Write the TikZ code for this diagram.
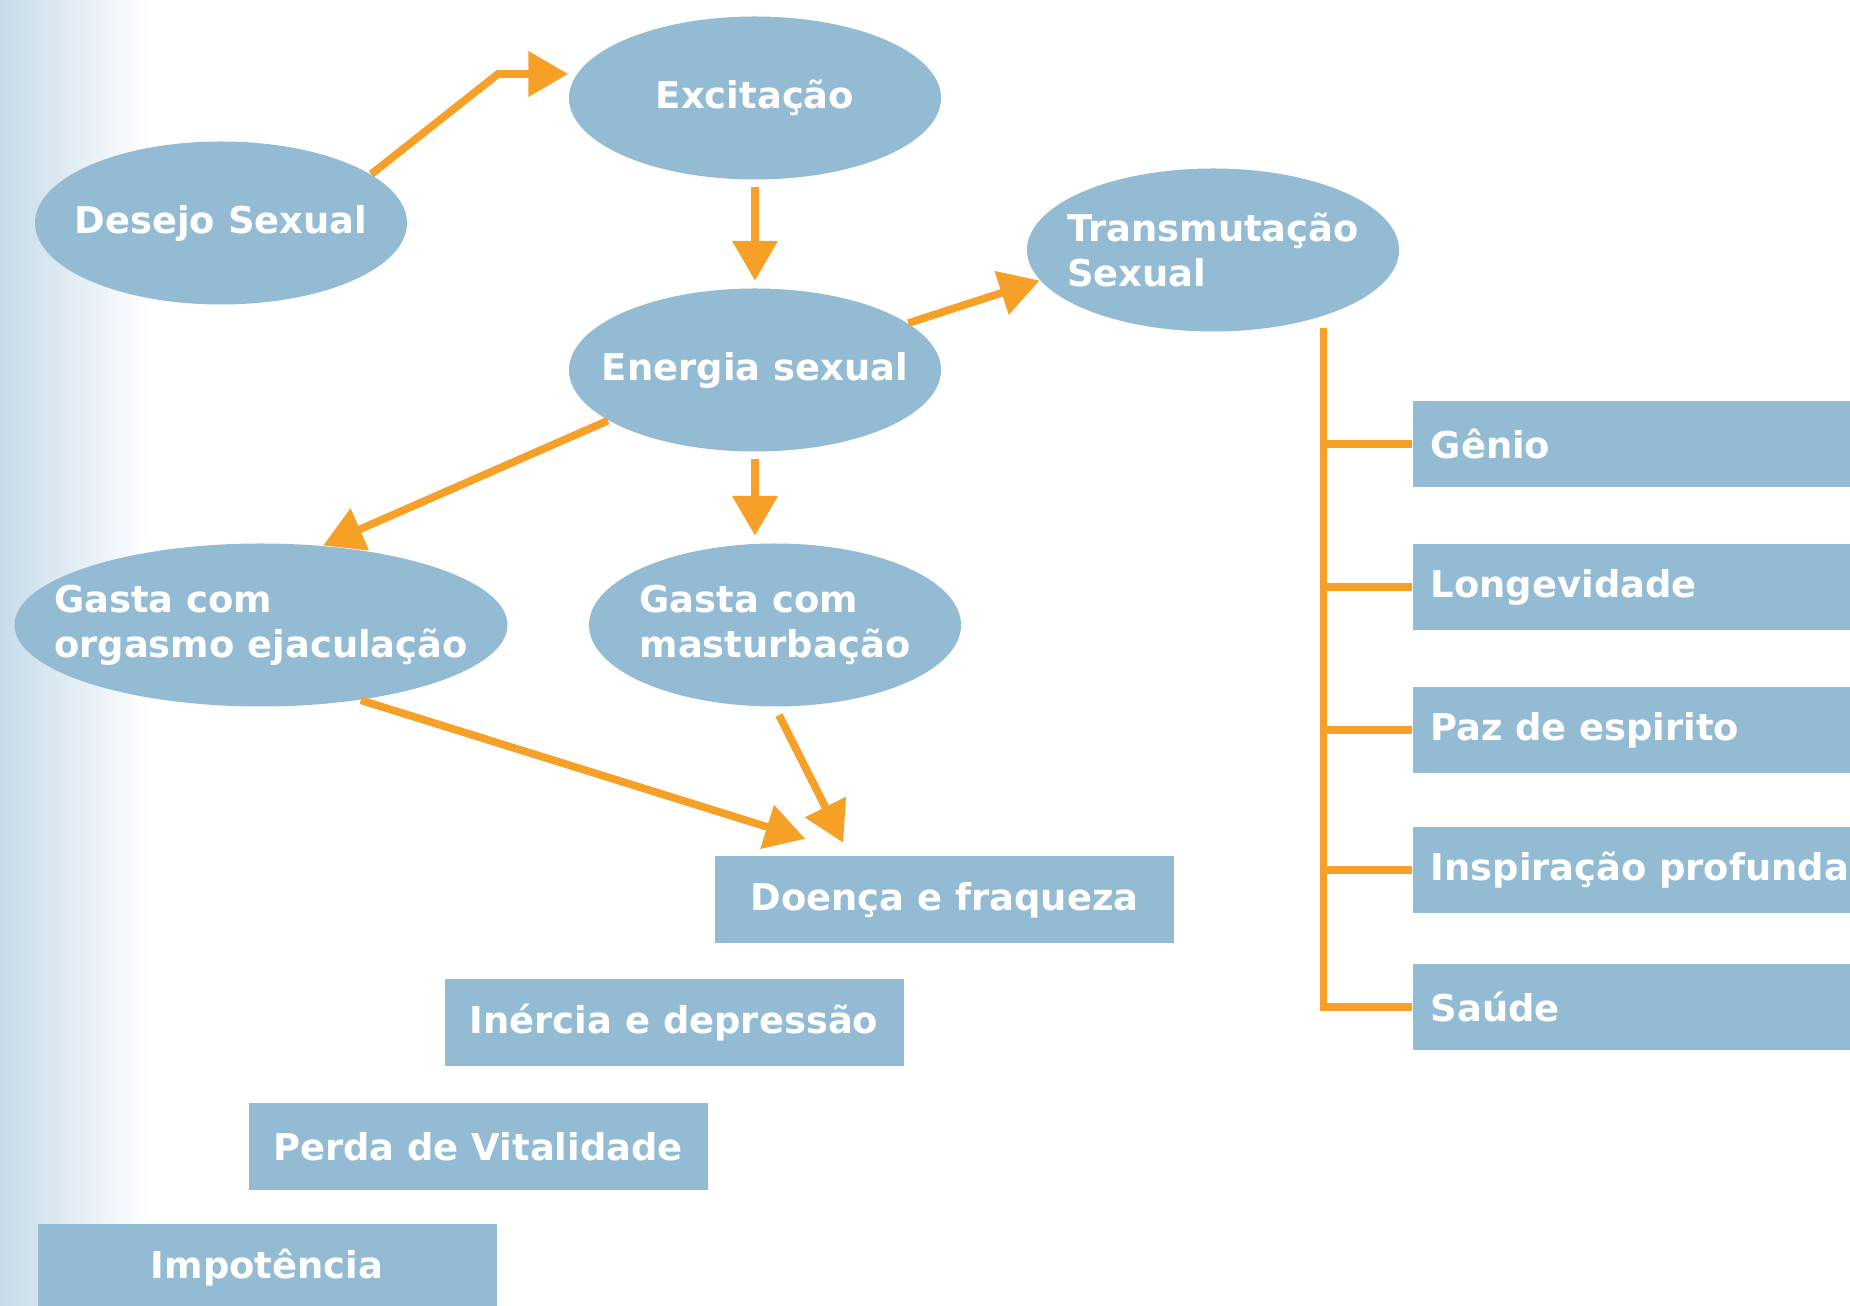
\documentclass[tikz,border=0pt]{standalone}
\usepackage{fontspec}
\setmainfont{DejaVu Sans}
\usetikzlibrary{shapes.geometric,arrows.meta}
\definecolor{skyfill}{RGB}{148,187,212}
\definecolor{floworange}{RGB}{246,160,40}
\definecolor{haze}{RGB}{198,219,233}

\begin{document}
\begin{tikzpicture}[>={Triangle[length=0.4cm,width=0.44cm]},
	font=\bfseries\fontsize{10.5}{12.8}\selectfont,
	bubble/.style={ellipse, fill=skyfill, inner sep=0pt,
		minimum width=3.72cm, minimum height=1.63cm,
		label={[text=white, align=left]center:#1}},
	bar/.style={fill=skyfill, text=white, minimum width=4.59cm,
		minimum height=0.87cm},
	gain/.style={fill=skyfill, text=white, anchor=west, align=left,
		text width=4.8cm, inner xsep=0.18cm, minimum height=0.86cm},
	link/.style={->, floworange, line width=2.2pt}]
	\useasboundingbox (0,0) rectangle (18.5,-13.06);
	\shade[left color=haze, right color=white] (0,0) rectangle (1.5,-13.06);

	\node[bubble={Excitação}] (excit) at (7.55,-0.98) {};
	\node[bubble={Desejo Sexual}] (desejo) at (2.21,-2.23) {};
	\node[bubble={Transmutação\\Sexual}] (trans) at (12.13,-2.50) {};
	\node[bubble={Energia sexual}] (energia) at (7.55,-3.70) {};
	\node[bubble={Gasta com\\orgasmo ejaculação}, minimum width=4.93cm]
	(orgasmo) at (2.61,-6.25) {};
	\node[bubble={Gasta com\\masturbação}] (mastur) at (7.75,-6.25) {};

	\node[bar] (doenca) at (9.445,-9.00) {Doença e fraqueza};
	\node[bar] (inercia) at (6.74,-10.23) {Inércia e depressão};
	\node[bar] (perda) at (4.78,-11.47) {Perda de Vitalidade};
	\node[bar] (impot) at (2.67,-12.68) {Impotência};

	\node[gain] (genio) at (14.12,-4.44) {Gênio};
	\node[gain] (longev) at (14.12,-5.87) {Longevidade};
	\node[gain] (paz) at (14.12,-7.30) {Paz de espirito};
	\node[gain] (inspir) at (14.12,-8.70) {Inspiração profunda};
	\node[gain] (saude) at (14.12,-10.07) {Saúde};

	\coordinate (bend) at (4.98,-0.74);
	\draw[link] (desejo.18) -- (bend) -- (bend -| excit.west);
	\draw[link, shorten <=2pt, shorten >=2pt] (excit) -- (energia);
	\draw[link] (energia.17) -- (trans.190);
	\draw[link] (energia.199) -- (orgasmo.52);
	\draw[link, shorten <=2pt, shorten >=2pt]
	(energia.south) -- (energia.south |- mastur.north);
	\draw[link] (orgasmo.-37) -- ([xshift=0.91cm, yshift=0.17cm]doenca.north west);
	\draw[link, shorten <=2.5pt] (mastur.south) -- ([xshift=1.29cm, yshift=0.13cm]doenca.north west);

	\coordinate (trunk) at (13.23,-3.28);
	\foreach \b in {genio,longev,paz,inspir,saude} {
			\draw[floworange, line width=2pt] (trunk) |- (\b.west);
		}
\end{tikzpicture}
\end{document}
